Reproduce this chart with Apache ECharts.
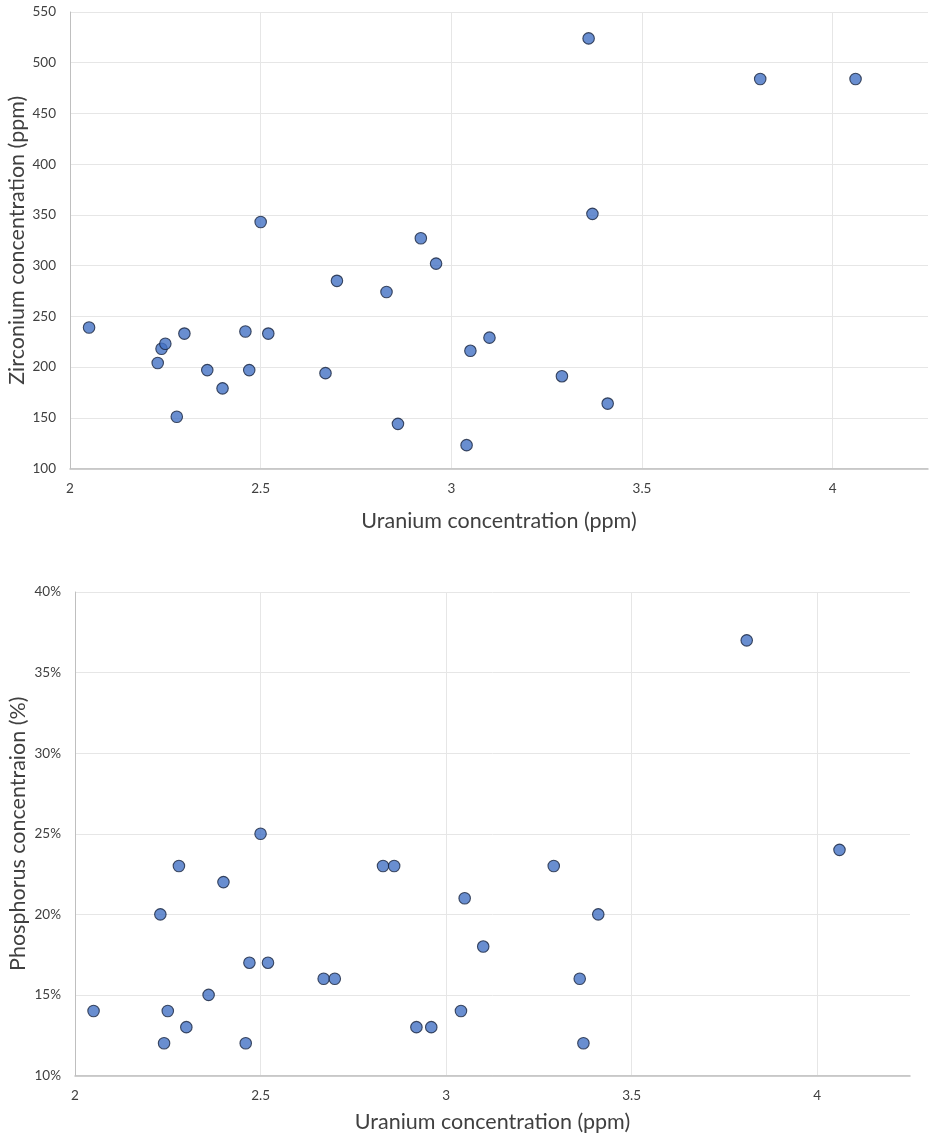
<!DOCTYPE html>
<html>
<head>
<meta charset="utf-8">
<script src="https://cdn.jsdelivr.net/npm/echarts@6/dist/echarts.min.js"></script>
<style>
html,body{margin:0;padding:0;background:#fff;}
#chart{width:930px;height:1141px;}
</style>
</head>
<body>
<div id="chart"></div>
<script>
// Uranium concentration (ppm) for each sample
const uranium = [2.05, 2.23, 2.24, 2.25, 2.28, 2.30, 2.36, 2.40, 2.46, 2.47, 2.50, 2.52, 2.67, 2.70, 2.83, 2.86, 2.92, 2.96, 3.04, 3.05, 3.10, 3.29, 3.36, 3.37, 3.41, 3.81, 4.06];
// Zirconium concentration (ppm)
const zirconium = [239, 204, 218, 223, 151, 233, 197, 179, 235, 197, 343, 233, 194, 285, 274, 144, 327, 302, 123, 216, 229, 191, 524, 351, 164, 484, 484];
// Phosphorus concentration (%)
const phosphorus = [14, 20, 12, 14, 23, 13, 15, 22, 12, 17, 25, 17, 16, 16, 23, 23, 13, 13, 14, 21, 18, 23, 16, 12, 20, 37, 24];

const xTitle = 'Uranium concentration (ppm)';
const yTitleTop = 'Zirconium concentration (ppm)';
const yTitleBottom = 'Phosphorus concentraion (%)';

const FONT = 'Lato, "Open Sans", sans-serif';
const gridColor = '#E6E6E6';
const axisColor = '#BFBFBF';

function xAxis(gi,gap){
  return {
    type:'value', gridIndex:gi, min:2, max:4.25, interval:0.5,
    name:xTitle, nameLocation:'middle', nameGap:gap,
    nameTextStyle:{fontFamily:FONT,fontSize:21.5,color:'#404040'},
    axisLine:{show:true,lineStyle:{color:axisColor,width:1.5}},
    axisTick:{show:false},
    axisLabel:{fontFamily:FONT,fontSize:13.5,color:'#404040',showMaxLabel:false,margin:13.5},
    splitLine:{show:true,showMaxLine:false,lineStyle:{color:gridColor,width:1}}
  };
}
function yAxis(gi,min,max,interval,title,fmt,gap){
  return {
    type:'value', gridIndex:gi, min:min, max:max, interval:interval,
    name:title, nameLocation:'middle', nameGap:gap, nameRotate:90, nameMoveOverlap:false,
    nameTextStyle:{fontFamily:FONT,fontSize:21.5,color:'#404040'},
    axisLine:{show:true,lineStyle:{color:axisColor,width:1}},
    axisTick:{show:false},
    axisLabel:{fontFamily:FONT,fontSize:13.5,color:'#404040',formatter:fmt,margin:14},
    splitLine:{show:true,lineStyle:{color:gridColor,width:1}}
  };
}
const marker = {color:'#4472C4',borderColor:'#16233D',borderWidth:1.1};

const chart = echarts.init(document.getElementById('chart'),null,{renderer:'canvas'});
chart.setOption({
  animation:false,
  backgroundColor:'#ffffff',
  grid:[
    {left:70,top:12,width:858,height:456.5,outerBoundsMode:'none',containLabel:false},
    {left:75,top:592,width:835,height:483.5,outerBoundsMode:'none',containLabel:false}
  ],
  xAxis:[xAxis(0,41.5),xAxis(1,36)],
  yAxis:[
    yAxis(0,100,550,50,yTitleTop,'{value}',42),
    yAxis(1,10,40,5,yTitleBottom,'{value}%',45.5)
  ],
  series:[
    {type:'scatter',xAxisIndex:0,yAxisIndex:0,symbolSize:11.5,itemStyle:marker,
     data:uranium.map((u,i)=>[u,zirconium[i]])},
    {type:'scatter',xAxisIndex:1,yAxisIndex:1,symbolSize:11.5,itemStyle:marker,
     data:uranium.map((u,i)=>[u,phosphorus[i]])}
  ]
});
</script>
</body>
</html>
